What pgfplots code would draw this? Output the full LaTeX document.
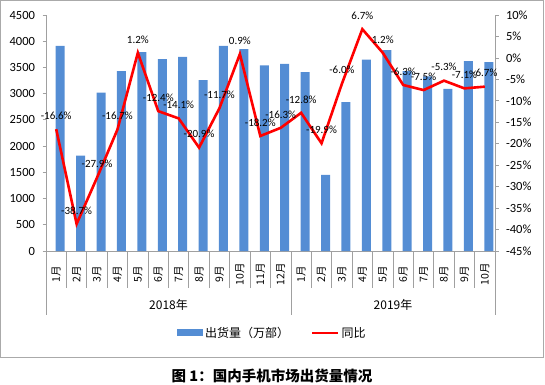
\documentclass[border=0pt]{standalone}
\usepackage{fontspec}
\setmainfont{Carlito}
\newfontfamily\cjk{Noto Sans CJK SC}
\usepackage{pgfplots}
\pgfplotsset{compat=1.18}
\definecolor{barblue}{RGB}{84,141,212}
\definecolor{axgray}{RGB}{160,160,160}
\pgfplotsset{/pgf/number format/assume math mode=true, /pgf/number format/1000 sep={}}
\begin{document}
\begin{tikzpicture}
\useasboundingbox (0pt,0pt) rectangle (545pt,384pt);
\draw[axgray!90, line width=0.8pt] (0.5pt,27pt) rectangle (543.5pt,383.5pt);

\begin{axis}[
  at={(46pt,133pt)}, anchor=south west,
  width=449pt, height=236pt, scale only axis,
  xmin=0.5, xmax=22.5, ymin=0, ymax=4500,
  axis y line*=left, axis x line*=bottom,
  axis line style={axgray, line width=0.8pt},
  ytick={0,500,...,4500},
  yticklabel style={font=\fontsize{12.5}{14}\selectfont, xshift=-4pt},
  ytick style={axgray, line width=0.8pt},
  tick align=outside, major tick length=3.5pt,
  xtick={1,...,22},
  xticklabels={1月,2月,3月,4月,5月,6月,7月,8月,9月,10月,11月,12月,1月,2月,3月,4月,5月,6月,7月,8月,9月,10月},
  xtick style={draw=none},
  x tick label style={font=\cjk\fontsize{10.5}{12}\selectfont, anchor=center, yshift=-20pt, rotate=90},
  legend style={at={(0.504,-0.347)}, anchor=center, draw=none, fill=none,
    legend columns=2, font=\cjk\fontsize{12}{14}\selectfont,
    /tikz/every even column/.append style={column sep=20pt}},
]
\addplot[ybar, bar width=9pt, bar shift=4pt, fill=barblue, draw=none,
  legend image code/.code={\fill[barblue] (0pt,-3.5pt) rectangle (26pt,3.5pt);}]
coordinates {
(1,3910) (2,1820) (3,3020) (4,3430) (5,3790) (6,3660) (7,3700) (8,3260) (9,3910) (10,3850) (11,3540)
(12,3570) (13,3410) (14,1450) (15,2840) (16,3650) (17,3830) (18,3430) (19,3330) (20,3090) (21,3620) (22,3600)
};
\addlegendentry{出货量（万部）}
\addlegendimage{red, line width=2.5pt, legend image code/.code={\draw[red, line width=2.5pt] (0pt,0pt) -- (26pt,0pt);}}
\addlegendentry{同比}
\end{axis}

\begin{axis}[
  at={(46pt,133pt)}, anchor=south west,
  width=449pt, height=236pt, scale only axis,
  xmin=0.5, xmax=22.5, ymin=-45, ymax=10,
  axis y line*=right, hide x axis,
  axis line style={axgray, line width=0.8pt},
  ytick={-45,-40,...,10},
  yticklabel={\pgfmathprintnumber{\tick}\%},
  yticklabel style={font=\fontsize{12.5}{14}\selectfont, xshift=4pt},
  ytick style={axgray, line width=0.8pt},
  tick align=outside, major tick length=3.5pt,
  clip=false,
]
\addplot[red, line width=2.6pt, mark=none,
  nodes near coords={\pgfmathprintnumber[fixed, fixed zerofill, precision=1]{\pgfplotspointmeta}\%},
  every node near coord/.style={font=\fontsize{11}{12}\selectfont, black, anchor=south, yshift=5pt}]
coordinates {
(1,-16.6) (2,-38.7) (3,-27.9) (4,-16.7) (5,1.2) (6,-12.4) (7,-14.1) (8,-20.9) (9,-11.7) (10,0.9) (11,-18.2)
(12,-16.3) (13,-12.8) (14,-19.9) (15,-6.0) (16,6.7) (17,1.2) (18,-6.3) (19,-7.5) (20,-5.3) (21,-7.1) (22,-6.7)
};
\end{axis}

\foreach \i in {1,...,11,13,14,...,21} {
  \pgfmathsetmacro\xx{46+\i*449/22}
  \draw[axgray, line width=0.8pt] (\xx pt,133pt) -- ++(0pt,-37pt);
}
\foreach \xx in {46,291,495} {
  \draw[axgray, line width=0.8pt] (\xx pt,133pt) -- ++(0pt,-64pt);
}
\node[font=\cjk\fontsize{12}{14}\selectfont] at (168.5pt,79pt) {2018年};
\node[font=\cjk\fontsize{12}{14}\selectfont] at (393pt,79pt) {2019年};
\node[font=\cjk\bfseries\fontsize{14.5}{17}\selectfont] at (272pt,8.5pt) {图 1：国内手机市场出货量情况};
\end{tikzpicture}
\end{document}
